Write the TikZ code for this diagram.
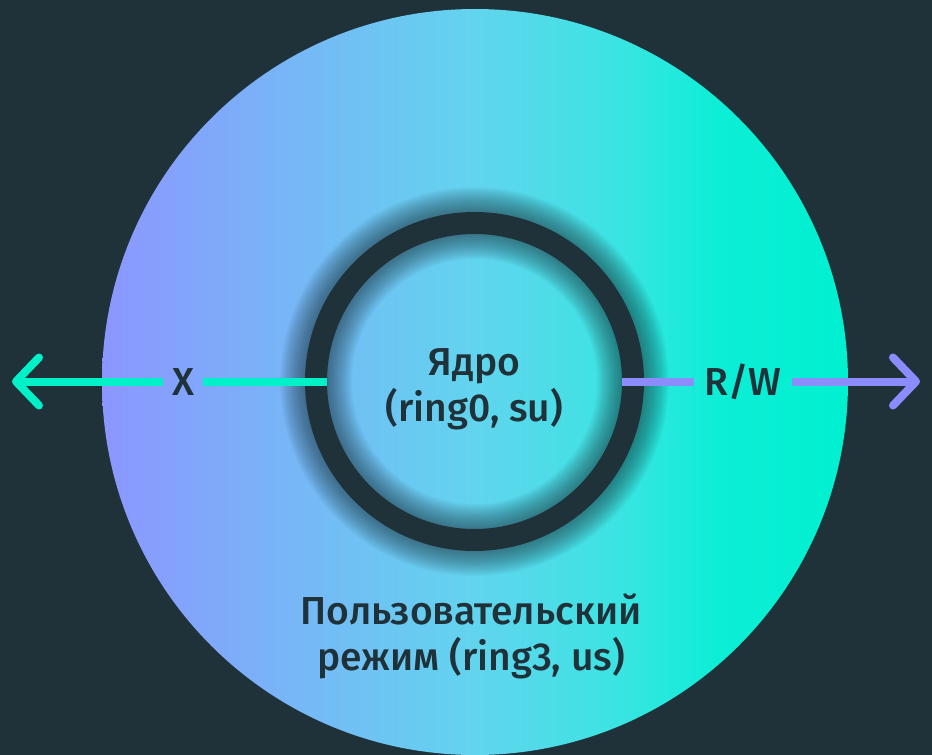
\documentclass[tikz,border=0pt]{standalone}
\usepackage{fontspec}
\setmainfont{Fira Sans}[UprightFont={* Medium}]
\definecolor{bg}{HTML}{1F3139}
\definecolor{arrgreen}{HTML}{00F0C8}
\definecolor{arrpurple}{HTML}{8C8CFF}
\definecolor{g1}{HTML}{8C96FF}
\definecolor{g2}{HTML}{76B8F6}
\definecolor{g3}{HTML}{62D4EE}
\definecolor{g4}{HTML}{3AE4E2}
\definecolor{g5}{HTML}{0CEED6}
\definecolor{g6}{HTML}{00F0D0}
\pgfdeclarehorizontalshading{bigshade}{100bp}{color(0bp)=(g1); color(25bp)=(g1); color(38.3bp)=(g2); color(50bp)=(g3); color(59.7bp)=(g4); color(66.4bp)=(g5); color(75bp)=(g6); color(100bp)=(g6)}
\tikzset{
  maintext/.style={text=bg, font=\fontsize{39}{46}\selectfont, align=center, inner sep=0pt},
  lbl/.style={text=bg, font=\fontsize{39}{46}\selectfont, inner xsep=9pt, inner ysep=0pt, text height=27pt, text depth=0pt},
  shaftgreen/.style={arrgreen, line width=8pt},
  shaftpurple/.style={arrpurple, line width=8pt},
  headgreen/.style={arrgreen, line width=8pt, line cap=round, line join=round},
  headpurple/.style={arrpurple, line width=8pt, line cap=round, line join=round},
}
\begin{document}
\begin{tikzpicture}[x=1pt,y=-1pt]
\useasboundingbox (0,0) rectangle (932,755);
\fill[bg] (0,0) rectangle (932,755);
\begin{scope}
  \clip (0,0) rectangle (932,755);
  \shade[shading=bigshade] (475,382) circle[radius=373pt];
\end{scope}
% inner core (area inside ring)
\node[circle, minimum size=295pt, inner sep=0pt, outer sep=0pt] (core) at (474.5,381.5) {};
% ring shadow
\foreach \w in {72,70,68,66,64,62,60,58,56,54,52,50,48,46,44,42,40,38,36,34,32,30,28,26,24} {
  \draw[bg, line width=\w pt, opacity=0.028] (core.center) circle[radius=158.5pt];
}
% ring
\draw[bg, line width=22pt] (core.center) circle[radius=158.5pt];
% labels on connectors
\node[lbl] (X) at (183,381.5) {X};
\node[lbl, inner xsep=10.5pt] (RW) at (743,381.5) {R/W};
\coordinate (ltip) at (16,381.5);
\coordinate (rtip) at (916,381.5);
% connectors
\draw[shaftgreen] (core.west) -- (X.east);
\draw[shaftgreen] (X.west) -- (ltip);
\draw[headgreen] ([shift={(23,-24)}]ltip) -- (ltip) -- ([shift={(23,24)}]ltip);
\draw[shaftpurple] (core.east) -- (RW.west);
\draw[shaftpurple] (RW.east) -- (rtip);
\draw[headpurple] ([shift={(-23,-24)}]rtip) -- (rtip) -- ([shift={(-23,24)}]rtip);
% texts
\node[maintext, anchor=base] (kern) at (474.5,421) {Ядро\\(ring0, su)};
\node[maintext, anchor=base] (user) at (471,670) {Пользовательский\\режим (ring3, us)};
\end{tikzpicture}
\end{document}
